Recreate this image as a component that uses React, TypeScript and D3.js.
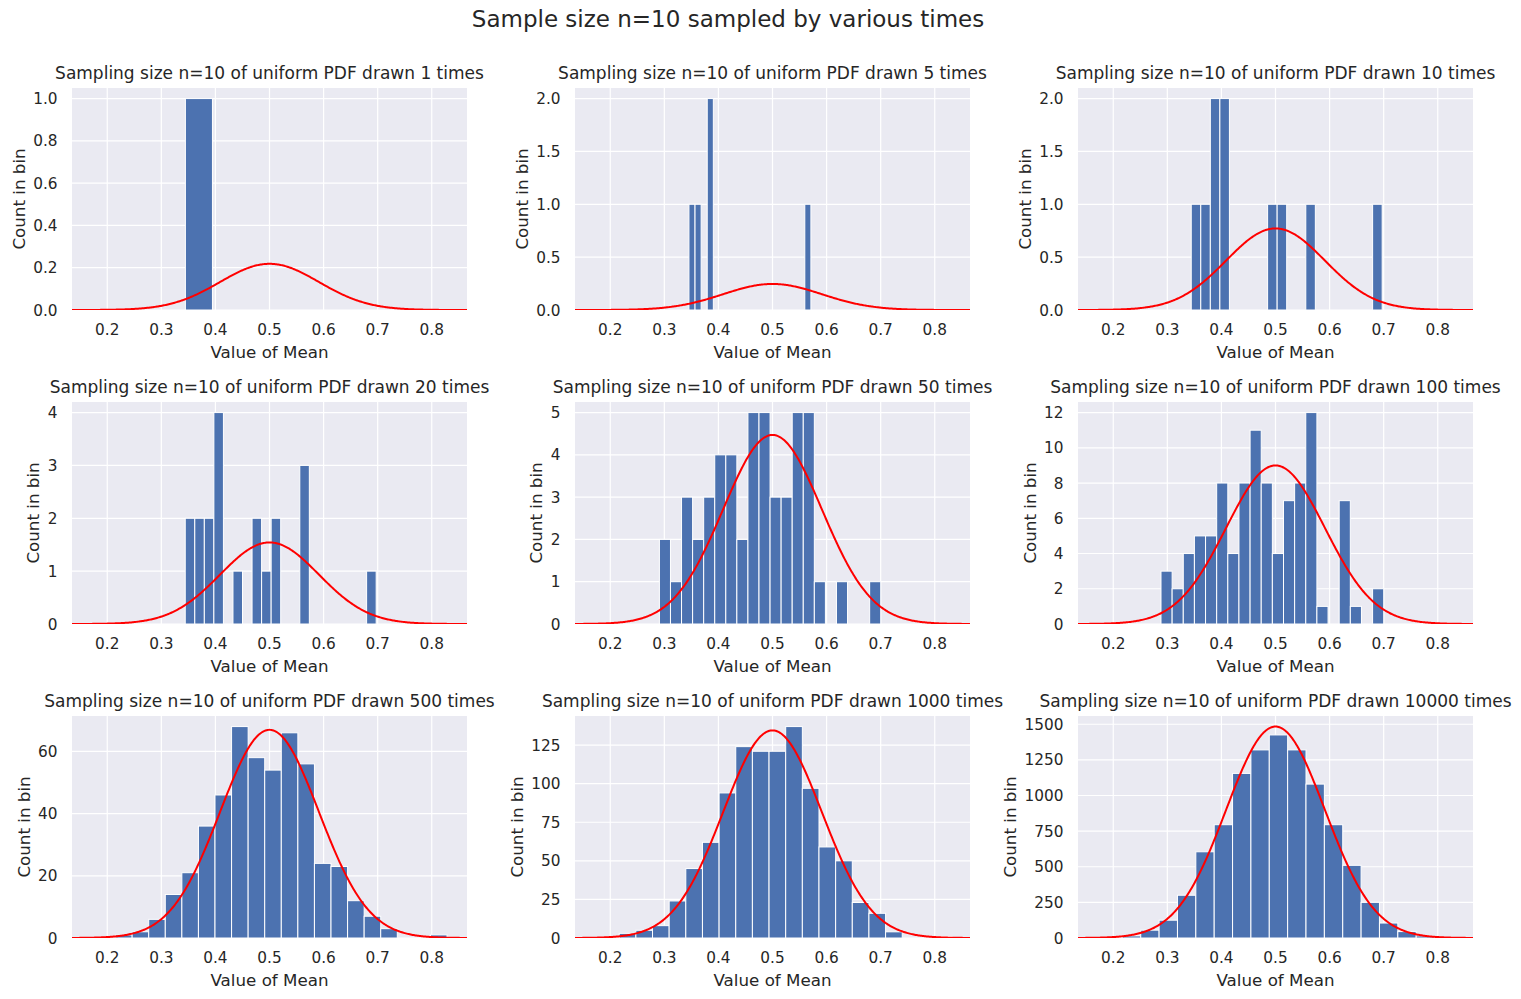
import * as d3 from 'd3'
import React, { useEffect, useRef } from 'react'

const WIDTH = 1521
const HEIGHT = 999

// how many sample means went into each panel
const drawCounts = [1, 5, 10, 20, 50, 100, 500, 1000, 10000]

// each histogram has 20 equal bins between binLo and binHi
const binLo = [-0.1555, 0.3455, 0.3442, 0.3442, 0.2909, 0.2883, 0.2154, 0.2166, 0.149]
const binHi = [0.8445, 0.571, 0.6972, 0.6972, 0.7001, 0.7001, 0.8282, 0.8322, 0.828]

const binCounts = [
  [0, 0, 0, 0, 0, 0, 0, 0, 0, 0, 1, 0, 0, 0, 0, 0, 0, 0, 0, 0],
  [1, 1, 0, 2, 0, 0, 0, 0, 0, 0, 0, 0, 0, 0, 0, 0, 0, 0, 0, 1],
  [1, 1, 2, 2, 0, 0, 0, 0, 1, 1, 0, 0, 1, 0, 0, 0, 0, 0, 0, 1],
  [2, 2, 2, 4, 0, 1, 0, 2, 1, 2, 0, 0, 3, 0, 0, 0, 0, 0, 0, 1],
  [2, 1, 3, 2, 3, 4, 4, 2, 5, 5, 3, 3, 5, 5, 1, 0, 1, 0, 0, 1],
  [3, 2, 4, 5, 5, 8, 4, 8, 11, 8, 4, 7, 8, 12, 1, 0, 7, 1, 0, 2],
  [1, 2, 6, 14, 21, 36, 46, 68, 58, 54, 66, 56, 24, 23, 12, 7, 3, 0, 0, 1],
  [3, 5, 8, 24, 45, 62, 94, 124, 121, 121, 137, 97, 59, 50, 23, 16, 4, 0, 0, 1],
  [1, 3, 15, 55, 125, 300, 605, 795, 1155, 1320, 1425, 1320, 1080, 795, 510, 250, 105, 45, 15, 3],
]

const yTickSteps = [0.2, 0.5, 0.5, 1, 1, 2, 20, 25, 250]
const xTicks = [0.2, 0.3, 0.4, 0.5, 0.6, 0.7, 0.8]

const sampleSize = 10
const mu = 0.5
const sigma = Math.sqrt(1 / 12 / sampleSize)

const BG = '#EAEAF2'
const BAR = '#4C72B0'
const TEXT = '#262626'
const FONT = '"DejaVu Sans", sans-serif'

const colLeft = [72, 575, 1078]
const rowTop = [88, 402, 716]
const PW = 395
const PH = 222

const TICK_FS = 15.3
const LABEL_FS = 16.7
const TITLE_FS = 17

const normalPdf = (x: number) =>
  Math.exp(-0.5 * ((x - mu) / sigma) ** 2) / (sigma * Math.sqrt(2 * Math.PI))

// rough advance width of a numeric tick label in DejaVu Sans
const labelWidth = (s: string) =>
  s.split('').reduce((w, c) => w + (c === '.' ? 0.318 : 0.636), 0) * TICK_FS

const App = () => {
  const ref = useRef<SVGSVGElement>(null)

  useEffect(() => {
    const svg = d3.select(ref.current)
    svg.selectAll('*').remove()

    svg.append('rect').attr('width', WIDTH).attr('height', HEIGHT).attr('fill', 'white')

    svg
      .append('text')
      .attr('x', 728)
      .attr('y', 27)
      .attr('text-anchor', 'middle')
      .attr('font-family', FONT)
      .attr('font-size', 23)
      .attr('fill', TEXT)
      .text(`Sample size n=${sampleSize} sampled by various times`)

    drawCounts.forEach((n, idx) => {
      const left = colLeft[idx % 3]
      const top = rowTop[Math.floor(idx / 3)]
      const counts = binCounts[idx]
      const lo = binLo[idx]
      const bw = (binHi[idx] - lo) / counts.length
      const scaleK = n * bw
      const peak = scaleK * normalPdf(mu)
      const yMax = 1.05 * Math.max(d3.max(counts) as number, peak)

      const x = d3.scaleLinear().domain([mu - 4 * sigma, mu + 4 * sigma]).range([left, left + PW])
      const y = d3.scaleLinear().domain([0, yMax]).range([top + PH, top])

      const g = svg.append('g')
      const clipId = `clip-${idx}`
      g.append('clipPath')
        .attr('id', clipId)
        .append('rect')
        .attr('x', left)
        .attr('y', top)
        .attr('width', PW)
        .attr('height', PH)

      g.append('rect')
        .attr('x', left)
        .attr('y', top)
        .attr('width', PW)
        .attr('height', PH)
        .attr('fill', BG)

      const step = yTickSteps[idx]
      const yTicks = d3.range(0, yMax + 1e-9, step)
      const fmt = step < 1 ? d3.format('.1f') : d3.format('d')

      // grid
      g.selectAll('.gx')
        .data(xTicks)
        .join('line')
        .attr('x1', (d) => x(d))
        .attr('x2', (d) => x(d))
        .attr('y1', top)
        .attr('y2', top + PH)
        .attr('stroke', 'white')
        .attr('stroke-width', 1.2)
      g.selectAll('.gy')
        .data(yTicks)
        .join('line')
        .attr('x1', left)
        .attr('x2', left + PW)
        .attr('y1', (d) => y(d))
        .attr('y2', (d) => y(d))
        .attr('stroke', 'white')
        .attr('stroke-width', 1.2)

      // histogram bars
      const bins = counts.map((c, i) => ({ c, x0: lo + i * bw, x1: lo + (i + 1) * bw })).filter((b) => b.c > 0)
      g.append('g')
        .attr('clip-path', `url(#${clipId})`)
        .selectAll('rect')
        .data(bins)
        .join('rect')
        .attr('x', (d) => x(d.x0))
        .attr('width', (d) => x(d.x1) - x(d.x0))
        .attr('y', (d) => y(d.c))
        .attr('height', (d) => y(0) - y(d.c))
        .attr('fill', BAR)
        .attr('stroke', 'white')
        .attr('stroke-width', 1)

      // scaled normal curve
      const xs = d3.range(0, 401).map((i) => mu - 4 * sigma + (8 * sigma * i) / 400)
      const line = d3
        .line<number>()
        .x((d) => x(d))
        .y((d) => y(scaleK * normalPdf(d)))
      g.append('path')
        .attr('clip-path', `url(#${clipId})`)
        .attr('d', line(xs))
        .attr('fill', 'none')
        .attr('stroke', '#FF0000')
        .attr('stroke-width', 2)

      // tick labels
      g.selectAll('.tx')
        .data(xTicks)
        .join('text')
        .attr('x', (d) => x(d))
        .attr('y', top + PH + 25)
        .attr('text-anchor', 'middle')
        .attr('font-family', FONT)
        .attr('font-size', TICK_FS)
        .attr('fill', TEXT)
        .text((d) => d3.format('.1f')(d))
      g.selectAll('.ty')
        .data(yTicks)
        .join('text')
        .attr('x', left - 14.5)
        .attr('y', (d) => y(d) + 5.6)
        .attr('text-anchor', 'end')
        .attr('font-family', FONT)
        .attr('font-size', TICK_FS)
        .attr('fill', TEXT)
        .text((d) => fmt(d))

      const widest = d3.max(yTicks, (d) => labelWidth(fmt(d))) as number

      // axis labels and title
      g.append('text')
        .attr('x', left + PW / 2)
        .attr('y', top + PH + 47.5)
        .attr('text-anchor', 'middle')
        .attr('font-family', FONT)
        .attr('font-size', LABEL_FS)
        .attr('fill', TEXT)
        .text('Value of Mean')

      const lx = left - 14.5 - widest - 8.5
      g.append('text')
        .attr('transform', `translate(${lx},${top + PH / 2}) rotate(-90)`)
        .attr('text-anchor', 'middle')
        .attr('font-family', FONT)
        .attr('font-size', LABEL_FS)
        .attr('fill', TEXT)
        .text('Count in bin')

      g.append('text')
        .attr('x', left + PW / 2)
        .attr('y', top - 9.5)
        .attr('text-anchor', 'middle')
        .attr('font-family', FONT)
        .attr('font-size', TITLE_FS)
        .attr('fill', TEXT)
        .text(`Sampling size n=${sampleSize} of uniform PDF drawn ${n} times`)
    })
  }, [])

  return (
    <svg
      ref={ref}
      width={WIDTH}
      height={HEIGHT}
      style={{ position: 'absolute', left: 0, top: 0, display: 'block' }}
    />
  )
}

export default App
